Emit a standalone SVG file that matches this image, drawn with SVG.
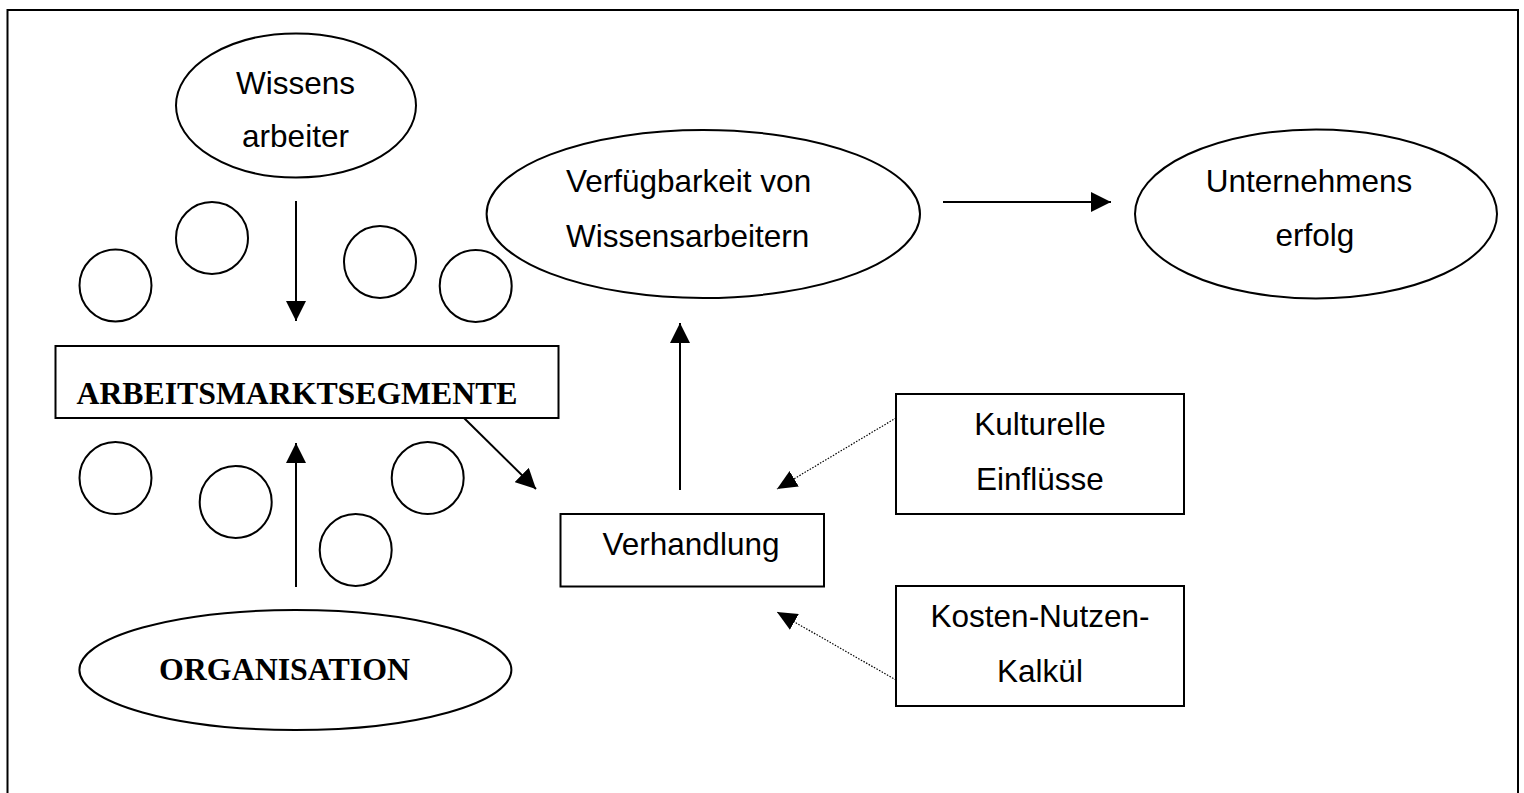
<svg xmlns="http://www.w3.org/2000/svg" width="1524" height="793" viewBox="0 0 1524 793">
<style>
  .shape { fill: #fff; stroke: #000; stroke-width: 2; }
  .circ { fill: none; stroke: #000; stroke-width: 2; }
  .lbl { font-family: "Liberation Sans", Arial, sans-serif; font-size: 31.5px; fill: #000; }
  .bold { font-family: "Liberation Serif", "Times New Roman", serif; font-weight: bold; font-size: 32px; fill: #000; }
  .mid { text-anchor: middle; }
  .conn { fill: none; stroke: #000; stroke-width: 2; }
  .dot { fill: none; stroke: #000; stroke-width: 1.2; stroke-dasharray: 1.5 1.5; }
</style>
<defs>
  <marker id="arrow" markerUnits="userSpaceOnUse" markerWidth="20" markerHeight="20" refX="20" refY="10" orient="auto">
    <path d="M0,0 L20,10 L0,20 z" fill="#000"/>
  </marker>
  <marker id="arrowSmall" markerUnits="userSpaceOnUse" markerWidth="20" markerHeight="18" refX="20" refY="9" orient="auto">
    <path d="M0,0 L20,9 L0,18 z" fill="#000"/>
  </marker>
</defs>
<rect x="0" y="0" width="1524" height="793" fill="#fff"/>
<g id="frame">
  <path d="M7.5,800 L7.5,10 L1518,10 L1518,800" fill="none" stroke="#000" stroke-width="2"/>
</g>
<g id="wissensarbeiter">
  <ellipse class="shape" cx="296" cy="105.5" rx="120" ry="72"/>
  <text class="lbl mid" x="295.5" y="93.5">Wissens</text>
  <text class="lbl mid" x="295.5" y="146.5">arbeiter</text>
</g>
<g id="segment-circles">
  <circle class="circ" cx="115.5" cy="285.5" r="36"/>
  <circle class="circ" cx="212" cy="238" r="36"/>
  <circle class="circ" cx="380" cy="262" r="36"/>
  <circle class="circ" cx="475.7" cy="286" r="36"/>
  <circle class="circ" cx="115.5" cy="478" r="36"/>
  <circle class="circ" cx="235.7" cy="502" r="36"/>
  <circle class="circ" cx="355.7" cy="550" r="36"/>
  <circle class="circ" cx="427.7" cy="478" r="36"/>
</g>
<g id="arbeitsmarktsegmente">
  <rect class="shape" x="55.5" y="346" width="503" height="72"/>
  <text class="bold" x="76.5" y="403.5" textLength="441" lengthAdjust="spacingAndGlyphs">ARBEITSMARKTSEGMENTE</text>
</g>
<g id="organisation">
  <ellipse class="shape" cx="295.4" cy="670" rx="216" ry="60"/>
  <text class="bold mid" x="284.5" y="680" textLength="251" lengthAdjust="spacingAndGlyphs">ORGANISATION</text>
</g>
<g id="verfuegbarkeit">
  <ellipse class="shape" cx="703.3" cy="214" rx="216.7" ry="84"/>
  <text class="lbl" x="566" y="191.5">Verfügbarkeit von</text>
  <text class="lbl" x="566" y="246.5">Wissensarbeitern</text>
</g>
<g id="unternehmenserfolg">
  <ellipse class="shape" cx="1316" cy="214" rx="181" ry="84.5"/>
  <text class="lbl mid" x="1309" y="191.5">Unternehmens</text>
  <text class="lbl mid" x="1315" y="246">erfolg</text>
</g>
<g id="verhandlung">
  <rect class="shape" x="560.5" y="514" width="263.5" height="72.5"/>
  <text class="lbl mid" x="691" y="555">Verhandlung</text>
</g>
<g id="kulturelle-einfluesse">
  <rect class="shape" x="896" y="394" width="288" height="120"/>
  <text class="lbl mid" x="1040" y="435">Kulturelle</text>
  <text class="lbl mid" x="1040" y="490">Einflüsse</text>
</g>
<g id="kosten-nutzen">
  <rect class="shape" x="896" y="586" width="288" height="120"/>
  <text class="lbl mid" x="1040" y="626.5">Kosten-Nutzen-</text>
  <text class="lbl mid" x="1040" y="681.5">Kalkül</text>
</g>
<g id="connectors">
  <line class="conn" x1="296" y1="201" x2="296" y2="321" marker-end="url(#arrow)"/>
  <line class="conn" x1="296" y1="587" x2="296" y2="443" marker-end="url(#arrow)"/>
  <line class="conn" x1="464" y1="418" x2="536" y2="489" marker-end="url(#arrow)"/>
  <line class="conn" x1="680" y1="490" x2="680" y2="323" marker-end="url(#arrow)"/>
  <line class="conn" x1="943" y1="202" x2="1111" y2="202" marker-end="url(#arrow)"/>
  <line class="dot" x1="896" y1="418" x2="777" y2="489" marker-end="url(#arrowSmall)"/>
  <line class="dot" x1="896" y1="680" x2="777" y2="612" marker-end="url(#arrowSmall)"/>
</g>
</svg>
